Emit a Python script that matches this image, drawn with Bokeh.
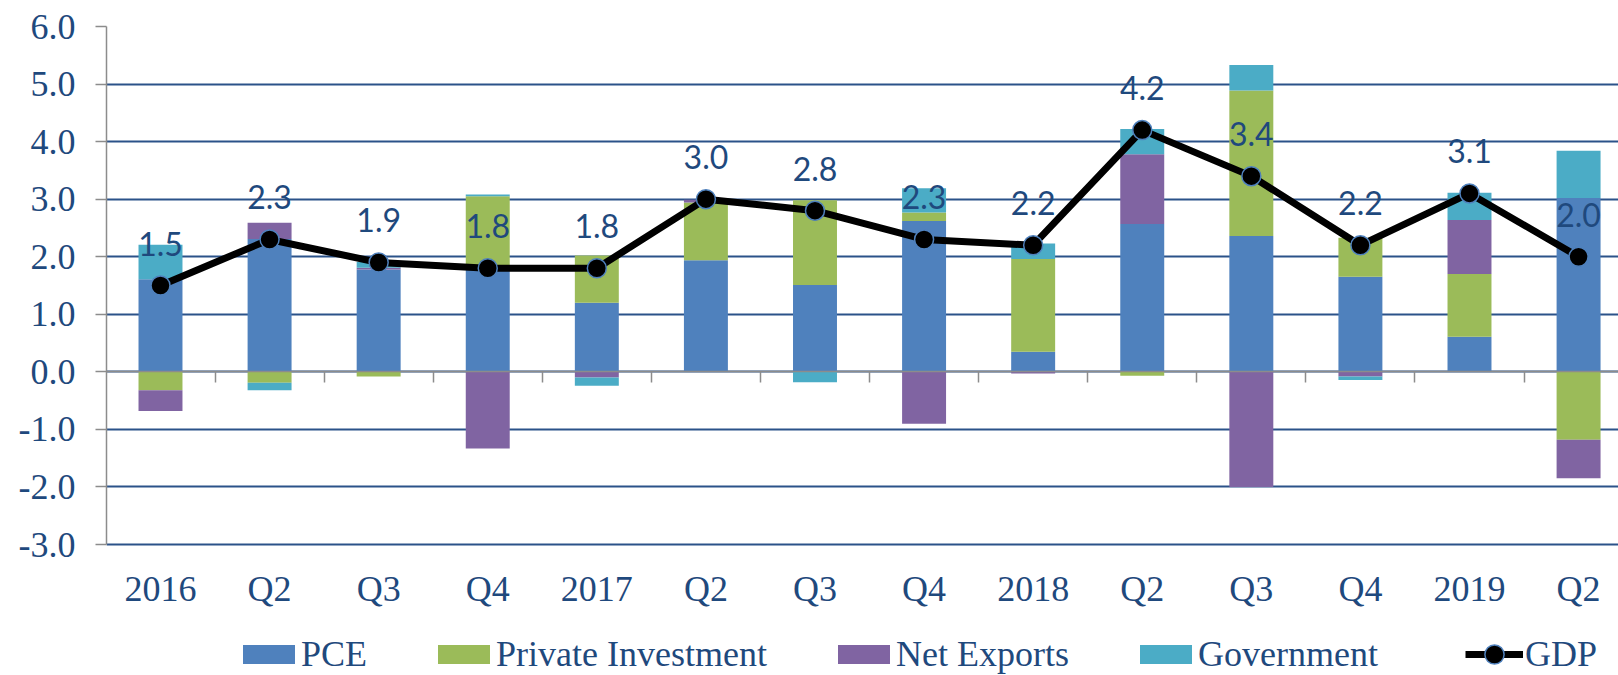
from bokeh.plotting import figure
from bokeh.models import (Range1d, FixedTicker, LinearAxis, NumeralTickFormatter,
                          ColumnDataSource, Legend, LegendItem)
from bokeh.core.properties import value
from bokeh.embed import file_html
from bokeh.resources import INLINE

# ---------------- data ----------------
categories = ["2016", "Q2", "Q3", "Q4", "2017", "Q2", "Q3", "Q4",
              "2018", "Q2", "Q3", "Q4", "2019", "Q2"]
pce = [1.61, 2.31, 1.78, 1.78, 1.20, 1.94, 1.51, 2.62, 0.35, 2.57, 2.36, 1.65, 0.61, 3.02]
private_investment = [-0.32, -0.19, -0.08, 1.27, 0.82, 1.00, 1.47, 0.15, 1.61, -0.07, 2.53, 0.68, 1.09, -1.18]
net_exports = [-0.36, 0.28, 0.03, -1.33, -0.10, 0.05, 0.00, -0.90, -0.03, 1.21, -2.00, -0.08, 0.94, -0.67]
government = [0.60, -0.13, 0.10, 0.03, -0.14, 0.00, -0.18, 0.42, 0.27, 0.44, 0.44, -0.06, 0.47, 0.82]
gdp = [1.5, 2.3, 1.9, 1.8, 1.8, 3.0, 2.8, 2.3, 2.2, 4.2, 3.4, 2.2, 3.1, 2.0]
y_ticks = [-3, -2, -1, 0, 1, 2, 3, 4, 5, 6]

series_names = ["PCE", "Private Investment", "Net Exports", "Government"]
series_values = [pce, private_investment, net_exports, government]
series_colors = ["#4F81BD", "#9BBB59", "#8064A2", "#4BACC6"]

TEXT = "#1F497D"
GRID = "#2B5289"
AXIS_GRAY = "#8C8C8C"

n = len(categories)
xs = list(range(n))

# layout: value axis spans 26px..544px; the frame continues to the bottom
W, H = 1618, 675
TOP, AXIS_BOTTOM = 26, 544
px_per_unit = (AXIS_BOTTOM - TOP) / (y_ticks[-1] - y_ticks[0])
y_start = y_ticks[0] - (H - AXIS_BOTTOM) / px_per_unit

p = figure(width=W, height=H, output_backend="svg", toolbar_location=None,
           x_axis_type=None,
           x_range=Range1d(-0.495, 13.366), y_range=Range1d(y_start, y_ticks[-1]),
           min_border_left=106, min_border_right=0, min_border_top=TOP,
           min_border_bottom=0)
p.outline_line_color = None
p.background_fill_color = "white"
p.border_fill_color = "white"

# ---------------- stacked bars ----------------
pos_base = [0.0] * n
neg_base = [0.0] * n
bar_renderers = []
for name, vals, col in zip(series_names, series_values, series_colors):
    bottoms, tops = [], []
    for i, v in enumerate(vals):
        if v >= 0:
            bottoms.append(pos_base[i]); tops.append(pos_base[i] + v); pos_base[i] += v
        else:
            bottoms.append(neg_base[i]); tops.append(neg_base[i] + v); neg_base[i] += v
    src = ColumnDataSource(dict(x=xs, bottom=bottoms, top=tops))
    r = p.vbar(x="x", bottom="bottom", top="top", width=0.403, source=src,
               fill_color=col, line_color=None)
    bar_renderers.append(r)

# ---------------- GDP line ----------------
gsrc = ColumnDataSource(dict(x=xs, y=gdp, label=[f"{v:.1f}" for v in gdp]))
gl = p.line("x", "y", source=gsrc, line_color="black", line_width=7)
gs = p.scatter("x", "y", source=gsrc, size=19, fill_color="black",
               line_color="#4F81BD", line_width=1.5)
p.text("x", "y", text="label", source=gsrc, text_align="center",
       text_baseline="middle", y_offset=-42, text_font=value("Lato"),
       text_font_size="32px", text_color=TEXT)

# ---------------- category labels (below the value axis) ----------------
csrc = ColumnDataSource(dict(x=xs, y=[y_ticks[0]] * n, label=categories))
p.text("x", "y", text="label", source=csrc, text_align="center",
       text_baseline="middle", y_offset=44,
       text_font=value("Liberation Serif"), text_font_size="36px",
       text_color=TEXT)

# ---------------- value axis ----------------
p.yaxis.ticker = FixedTicker(ticks=y_ticks)
p.yaxis.bounds = (y_ticks[0], y_ticks[-1])
p.yaxis.formatter = NumeralTickFormatter(format="0.0")
p.yaxis.major_label_text_font = "Liberation Serif"
p.yaxis.major_label_text_font_size = "36px"
p.yaxis.major_label_text_color = TEXT
p.yaxis.axis_line_color = AXIS_GRAY
p.yaxis.axis_line_width = 1.5
p.yaxis.major_tick_line_color = AXIS_GRAY
p.yaxis.major_tick_line_width = 1.5
p.yaxis.major_tick_out = 11
p.yaxis.major_tick_in = 0
p.yaxis.minor_tick_line_color = None
p.yaxis.major_label_standoff = 20

p.ygrid.ticker = FixedTicker(ticks=y_ticks)
p.ygrid.grid_line_color = GRID
p.ygrid.grid_line_width = 2

# zero-crossing category axis with tick marks between categories
zero_axis = LinearAxis(fixed_location=0,
                       ticker=FixedTicker(ticks=[i + 0.5 for i in xs]))
zero_axis.axis_line_color = AXIS_GRAY
zero_axis.axis_line_width = 1.5
zero_axis.major_tick_line_color = AXIS_GRAY
zero_axis.major_tick_line_width = 1.5
zero_axis.major_tick_out = 0
zero_axis.major_tick_in = 11
zero_axis.minor_tick_line_color = None
zero_axis.major_label_standoff = 0
zero_axis.major_label_text_font_size = "0px"
zero_axis.major_label_text_color = None
p.add_layout(zero_axis, "above")

# ---------------- legends ----------------
common = dict(orientation="horizontal", label_text_font="Liberation Serif",
              label_text_font_size="36px", label_text_color=TEXT,
              padding=0, margin=0, background_fill_alpha=0,
              border_line_color=None)
bar_items = [LegendItem(label=nm, renderers=[r]) for nm, r in zip(series_names, bar_renderers)]
bar_legend = Legend(items=bar_items, location=(130, 0), glyph_width=65,
                    glyph_height=24, label_standoff=0, spacing=64, **common)
p.add_layout(bar_legend, "center")

gdp_legend = Legend(items=[LegendItem(label="GDP", renderers=[gl, gs])],
                    location=(1359, -3), glyph_width=58, glyph_height=48,
                    label_standoff=2, spacing=0, **common)
p.add_layout(gdp_legend, "center")

open("out.html", "w").write(file_html(p, INLINE))
